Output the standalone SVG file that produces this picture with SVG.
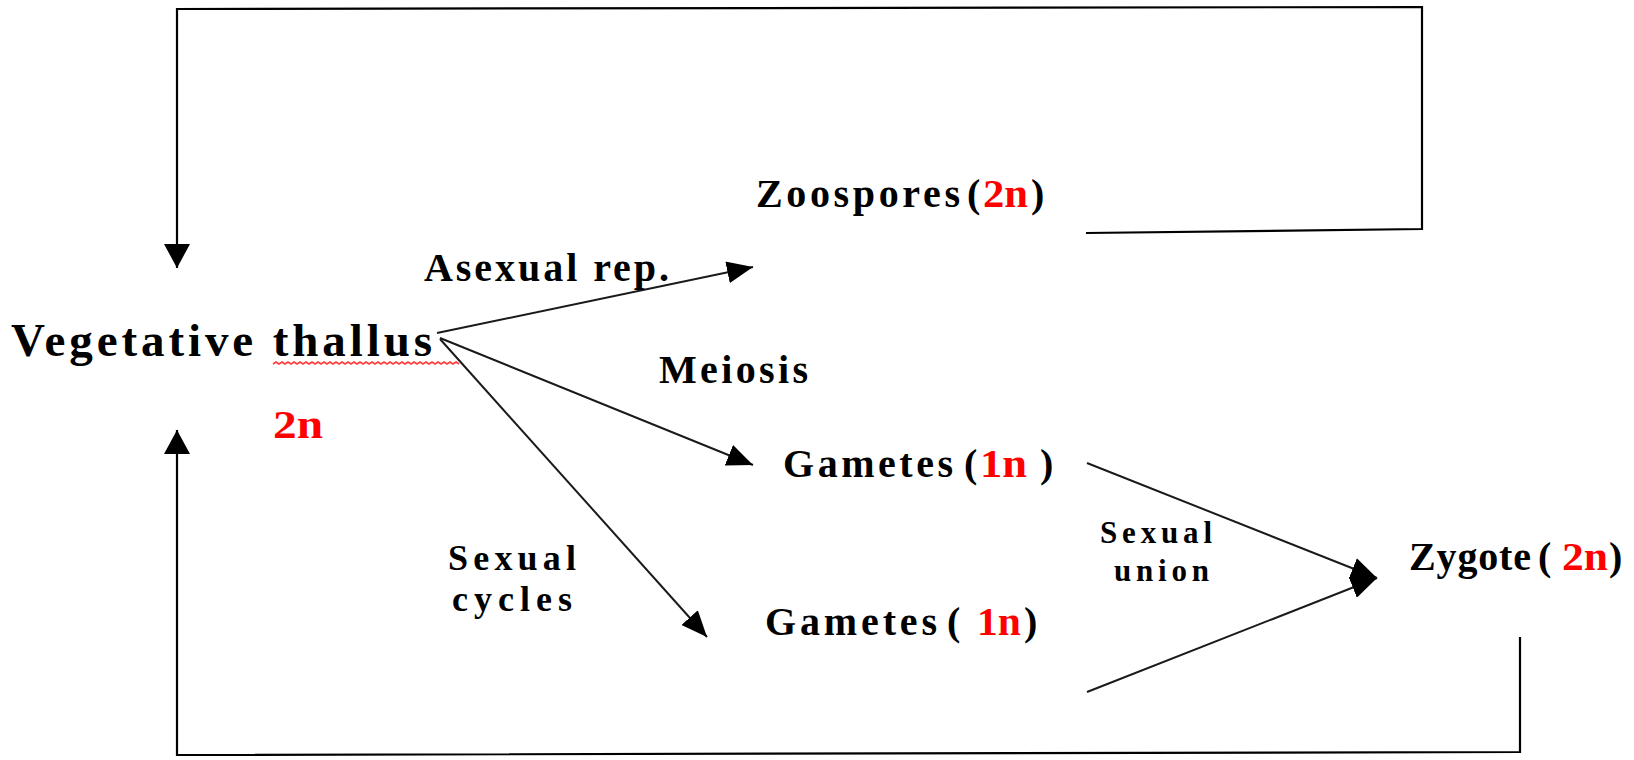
<svg xmlns="http://www.w3.org/2000/svg" width="1634" height="760" viewBox="0 0 1634 760">
<style>
  text { font-family: "Liberation Serif", "Times New Roman", serif; font-weight: bold; fill: #000; }
  .main { font-size: 47px; }
  .lbl { font-size: 40px; }
  .two { font-size: 36px; }
  .sm { font-size: 31px; }
  .red { fill: #ff0000; }
  .loop { fill: none; stroke: #000; stroke-width: 2.2; }
  .diag { fill: none; stroke: #1a1a1a; stroke-width: 2; }
  .squig { fill: none; stroke: #ff3b3b; stroke-width: 1.6; }
</style>
<defs>
  <marker id="ah" viewBox="0 0 24 26" refX="24" refY="13" markerWidth="24" markerHeight="26" orient="auto" markerUnits="userSpaceOnUse">
    <path d="M0,0 L24,13 L0,26 z" fill="#000"/>
  </marker>
  <marker id="ad" viewBox="0 0 26 22" refX="26" refY="11" markerWidth="26" markerHeight="22" orient="auto" markerUnits="userSpaceOnUse">
    <path d="M0,0 L26,11 L0,22 z" fill="#000"/>
  </marker>
</defs>
<rect width="1634" height="760" fill="#fff"/>

<g id="connectors">
  <path id="loop-top" class="loop" d="M1086,233 L1422,229 L1422,7 L177,9 L177,268" marker-end="url(#ah)"/>
  <path id="loop-bottom" class="loop" d="M1520,637 L1520,752 L177,755 L177,430" marker-end="url(#ah)"/>
  <path id="asexual" class="diag" d="M437,333 L753,267" marker-end="url(#ad)"/>
  <path id="meiosis" class="diag" d="M440,338 L753,465" marker-end="url(#ad)"/>
  <path id="sexual-cycles" class="diag" d="M440,339 L707,637" marker-end="url(#ad)"/>
  <path id="union-upper" class="diag" d="M1087,463 L1377,578" marker-end="url(#ad)"/>
  <path id="union-lower" class="diag" d="M1087,692 L1377,578" marker-end="url(#ad)"/>
</g>

<g id="vegetative-thallus">
  <text class="main" x="11" y="356" textLength="421" lengthAdjust="spacing">Vegetative thallus</text>
  <path class="squig" d="M273,364 l3,-2 l3,2 l3,-2 l3,2 l3,-2 l3,2 l3,-2 l3,2 l3,-2 l3,2 l3,-2 l3,2 l3,-2 l3,2 l3,-2 l3,2 l3,-2 l3,2 l3,-2 l3,2 l3,-2 l3,2 l3,-2 l3,2 l3,-2 l3,2 l3,-2 l3,2 l3,-2 l3,2 l3,-2 l3,2 l3,-2 l3,2 l3,-2 l3,2 l3,-2 l3,2 l3,-2 l3,2 l3,-2 l3,2 l3,-2 l3,2 l3,-2 l3,2 l3,-2 l3,2 l3,-2 l3,2 l3,-2 l3,2 l3,-2 l3,2 l3,-2 l3,2 l3,-2 l3,2 l3,-2 l3,2 l3,-2 l3,2"/>
  <text class="lbl red" x="273" y="438" textLength="50" lengthAdjust="spacingAndGlyphs">2n</text>
</g>

<g id="zoospores">
  <text class="lbl" x="756" y="207" textLength="204" lengthAdjust="spacing">Zoospores</text>
  <text class="lbl" x="967" y="207">(</text>
  <text class="lbl red" x="983" y="207" textLength="45" lengthAdjust="spacingAndGlyphs">2n</text>
  <text class="lbl" x="1031" y="207">)</text>
</g>

<g id="label-asexual">
  <text class="lbl" x="424" y="281" textLength="245" lengthAdjust="spacing">Asexual rep.</text>
</g>

<g id="label-meiosis">
  <text class="lbl" x="659" y="383" textLength="149" lengthAdjust="spacing">Meiosis</text>
</g>

<g id="gametes-upper">
  <text class="lbl" x="783" y="477" textLength="170" lengthAdjust="spacing">Gametes</text>
  <text class="lbl" x="964" y="477">(</text>
  <text class="lbl red" x="980" y="477" textLength="47" lengthAdjust="spacingAndGlyphs">1n</text>
  <text class="lbl" x="1040" y="477">)</text>
</g>

<g id="gametes-lower">
  <text class="lbl" x="765" y="635" textLength="172" lengthAdjust="spacing">Gametes</text>
  <text class="lbl" x="947" y="635">(</text>
  <text class="lbl red" x="977" y="635" textLength="44" lengthAdjust="spacingAndGlyphs">1n</text>
  <text class="lbl" x="1024" y="635">)</text>
</g>

<g id="label-sexual-cycles">
  <text class="two" x="448" y="570" textLength="128" lengthAdjust="spacing">Sexual</text>
  <text class="two" x="452" y="611" textLength="120" lengthAdjust="spacing">cycles</text>
</g>

<g id="label-sexual-union">
  <text class="sm" x="1100" y="543" textLength="112" lengthAdjust="spacing">Sexual</text>
  <text class="sm" x="1114" y="581" textLength="95" lengthAdjust="spacing">union</text>
</g>

<g id="zygote">
  <text class="lbl" x="1409" y="570" textLength="122" lengthAdjust="spacing">Zygote</text>
  <text class="lbl" x="1538" y="570">(</text>
  <text class="lbl red" x="1562" y="570" textLength="46" lengthAdjust="spacingAndGlyphs">2n</text>
  <text class="lbl" x="1609" y="570">)</text>
</g>
</svg>
